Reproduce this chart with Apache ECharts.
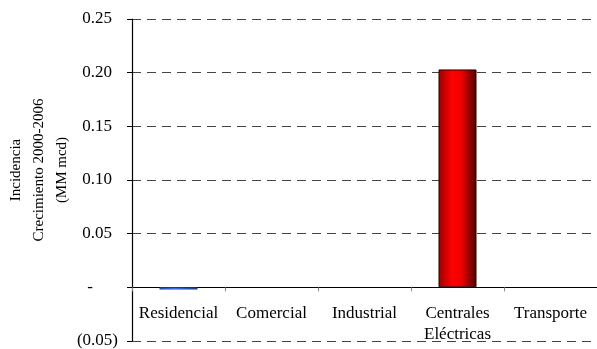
<!DOCTYPE html>
<html>
<head>
<meta charset="utf-8">
<script src="https://cdn.jsdelivr.net/npm/echarts@6/dist/echarts.min.js"></script>
<style>
  html, body { margin: 0; padding: 0; background: #fff; }
  #chart { width: 597px; height: 349px; }
</style>
</head>
<body>
<div id="chart"></div>
<script>
// Sector categories and growth contribution 2000-2006 (MM mcd)
const categories = ['Residencial', 'Comercial', 'Industrial', 'Centrales\nEléctricas', 'Transporte'];
const values = [-0.002, 0, 0, 0.203, 0];

// Value axis range and step
const yMin = -0.05;
const yMax = 0.25;
const yStep = 0.05;

const FONT = '"Liberation Serif", "Times New Roman", serif';

const redFill = new echarts.graphic.LinearGradient(0, 0, 1, 0, [
  { offset: 0, color: '#9a0000' },
  { offset: 0.35, color: '#ff0000' },
  { offset: 0.6, color: '#f00000' },
  { offset: 1, color: '#4a0000' }
]);
const blueFill = new echarts.graphic.LinearGradient(0, 0, 1, 0, [
  { offset: 0, color: '#2a50c0' },
  { offset: 0.4, color: '#3f78ff' },
  { offset: 1, color: '#1a3a90' }
]);

const chart = echarts.init(document.getElementById('chart'), null, { renderer: 'canvas' });

function tickLabel(v) {
  const r = Math.round(v * 100) / 100;
  if (Math.abs(r) < 1e-9) return '{z|-}';
  if (r < 0) return '{n|(' + Math.abs(r).toFixed(2) + ')}';
  return '{p|' + r.toFixed(2) + '}';
}

chart.setOption({
  animation: false,
  backgroundColor: '#ffffff',
  grid: { left: 132, right: 0, top: 19, bottom: 8, containLabel: false, outerBoundsMode: 'none' },
  xAxis: {
    type: 'category',
    data: categories,
    axisLine: { show: true, onZero: true, lineStyle: { color: '#000', width: 1.2 } },
    axisTick: { show: true, length: 4, lineStyle: { color: '#888' } },
    axisLabel: {
      interval: 0,
      // category labels sit just under the zero line, above the grid's lower edge
      margin: -38,
      color: '#000',
      fontFamily: FONT,
      fontSize: 17,
      lineHeight: 21
    },
    splitLine: { show: false }
  },
  yAxis: {
    type: 'value',
    min: yMin,
    max: yMax,
    interval: yStep,
    name: 'Incidencia\nCrecimiento 2000-2006\n(MM mcd)',
    nameLocation: 'middle',
    nameRotate: 90,
    nameGap: 58,
    nameMoveOverlap: false,
    nameTextStyle: {
      color: '#000',
      fontFamily: FONT,
      fontSize: 15,
      lineHeight: 23,
      align: 'center',
      padding: [0, 0, 0, 20]
    },
    axisLine: { show: true, lineStyle: { color: '#000', width: 1.2 } },
    axisTick: { show: true, inside: false, length: 5, lineStyle: { color: '#000', width: 1 } },
    axisLabel: {
      margin: 14,
      formatter: tickLabel,
      rich: {
        p: { color: '#000', fontFamily: FONT, fontSize: 17, padding: [0, 6, 0, 0] },
        n: { color: '#000', fontFamily: FONT, fontSize: 17 },
        z: { color: '#000', fontFamily: FONT, fontSize: 17, padding: [0, 25, 0, 0] }
      }
    },
    splitLine: {
      show: true,
      lineStyle: { color: '#444', width: 1, type: [9, 6] }
    }
  },
  series: [{
    type: 'bar',
    barWidth: 38,
    data: values.map(v => ({
      value: v,
      itemStyle: {
        color: v < 0 ? blueFill : redFill,
        borderColor: v < 0 ? '#2a3a7a' : '#2a0000',
        borderWidth: v === 0 ? 0 : (v < 0 ? 0.5 : 1)
      }
    }))
  }]
});
</script>
</body>
</html>
